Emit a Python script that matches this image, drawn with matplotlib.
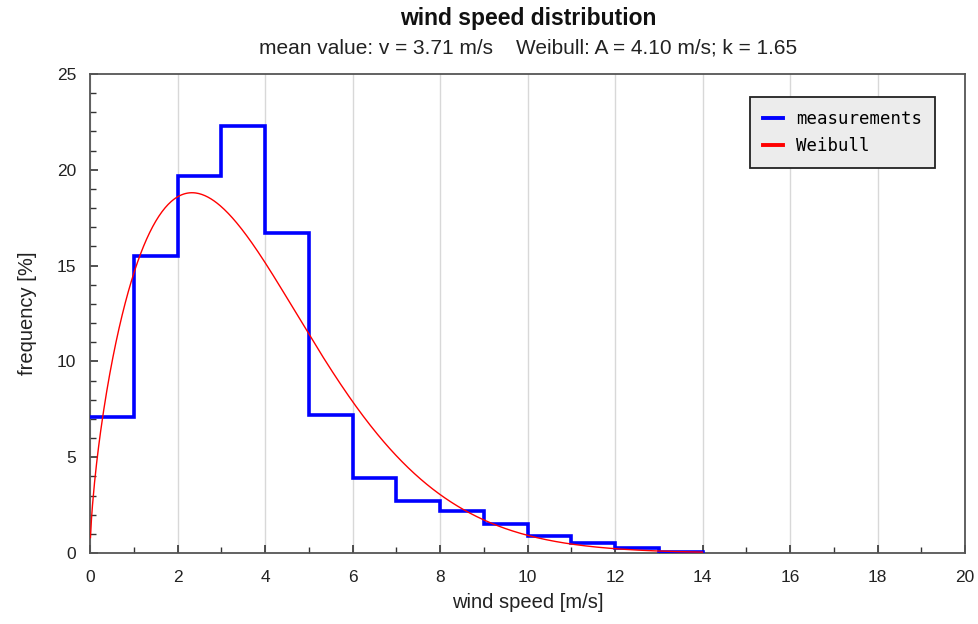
import numpy as np
import matplotlib
matplotlib.use("Agg")
import matplotlib.pyplot as plt
from matplotlib.ticker import MultipleLocator

plt.rcParams['font.family'] = ['Liberation Sans', 'DejaVu Sans']

# Measured frequency per 1 m/s speed bin
bin_edges = [0, 1, 2, 3, 4, 5, 6, 7, 8, 9, 10, 11, 12, 13, 14]
freq_pct = [7.1, 15.5, 19.7, 22.3, 16.7, 7.2, 3.9, 2.7, 2.2, 1.5, 0.9, 0.5, 0.25, 0.05]

# Fitted Weibull parameters stated in the subtitle
mean_v = 3.71
weib_A = 4.10
weib_k = 1.65

fig = plt.figure(figsize=(9.79, 6.24), dpi=100)
ax = fig.add_axes([90 / 979, 71 / 624, 875 / 979, 479 / 624])

# Weibull density in percent per m/s
v = np.linspace(0.01, 14, 600)
pdf = (weib_k / weib_A) * (v / weib_A) ** (weib_k - 1) * np.exp(-(v / weib_A) ** weib_k) * 100

ax.plot(bin_edges, freq_pct + [0], drawstyle='steps-post', color='#0000ff', lw=2.6,
        label='measurements', zorder=3, solid_joinstyle='miter')
ax.plot(v, pdf, color='#ff0000', lw=1.0, label='Weibull', zorder=4)

ax.set_xlim(0, 20)
ax.set_ylim(0, 25)
ax.xaxis.set_major_locator(MultipleLocator(2))
ax.xaxis.set_minor_locator(MultipleLocator(1))
ax.yaxis.set_major_locator(MultipleLocator(5))
ax.yaxis.set_minor_locator(MultipleLocator(1))
ax.tick_params(which='both', direction='in', colors='#333333', labelcolor='#222222',
               labelsize=12.5)
ax.tick_params(which='major', length=6, width=1.2)
ax.tick_params(which='minor', length=4, width=1.0)
ax.tick_params(axis='x', pad=12)
ax.tick_params(axis='y', pad=10)
ax.grid(axis='x', which='major', color='#d8d8d8', lw=1.0)
ax.set_axisbelow(True)
for s in ax.spines.values():
    s.set_color('#555555')
    s.set_linewidth(1.3)

ax.set_xlabel('wind speed [m/s]', fontsize=14.5, color='#222222', labelpad=6)
ax.set_ylabel('frequency [%]', fontsize=14.5, color='#222222', labelpad=14)

fig.text(528 / 979, 1 - 19 / 624, 'wind speed distribution', ha='center', va='center',
         fontsize=16.5, fontweight='bold', color='#111111')
fig.text(528 / 979, 1 - 48 / 624,
         f'mean value: v = {mean_v:.2f} m/s    Weibull: A = {weib_A:.2f} m/s; k = {weib_k:.2f}',
         ha='center', va='center', fontsize=15, color='#222222')

leg = ax.legend(loc='upper right', bbox_to_anchor=((935 - 90) / 875, (553 - 97) / 479),
                bbox_transform=ax.transAxes, prop={'family': 'DejaVu Sans Mono', 'size': 12.5},
                fancybox=False, frameon=True, handlelength=1.15, borderpad=0.75,
                labelspacing=0.5, handletextpad=0.75, borderaxespad=0)
leg.get_frame().set_facecolor('#ececec')
leg.get_frame().set_edgecolor('#222222')
leg.get_frame().set_linewidth(1.3)
leg.get_frame().set_alpha(1)
for line in leg.get_lines():
    line.set_linewidth(2.8)

fig.savefig('out.png', dpi=100)
